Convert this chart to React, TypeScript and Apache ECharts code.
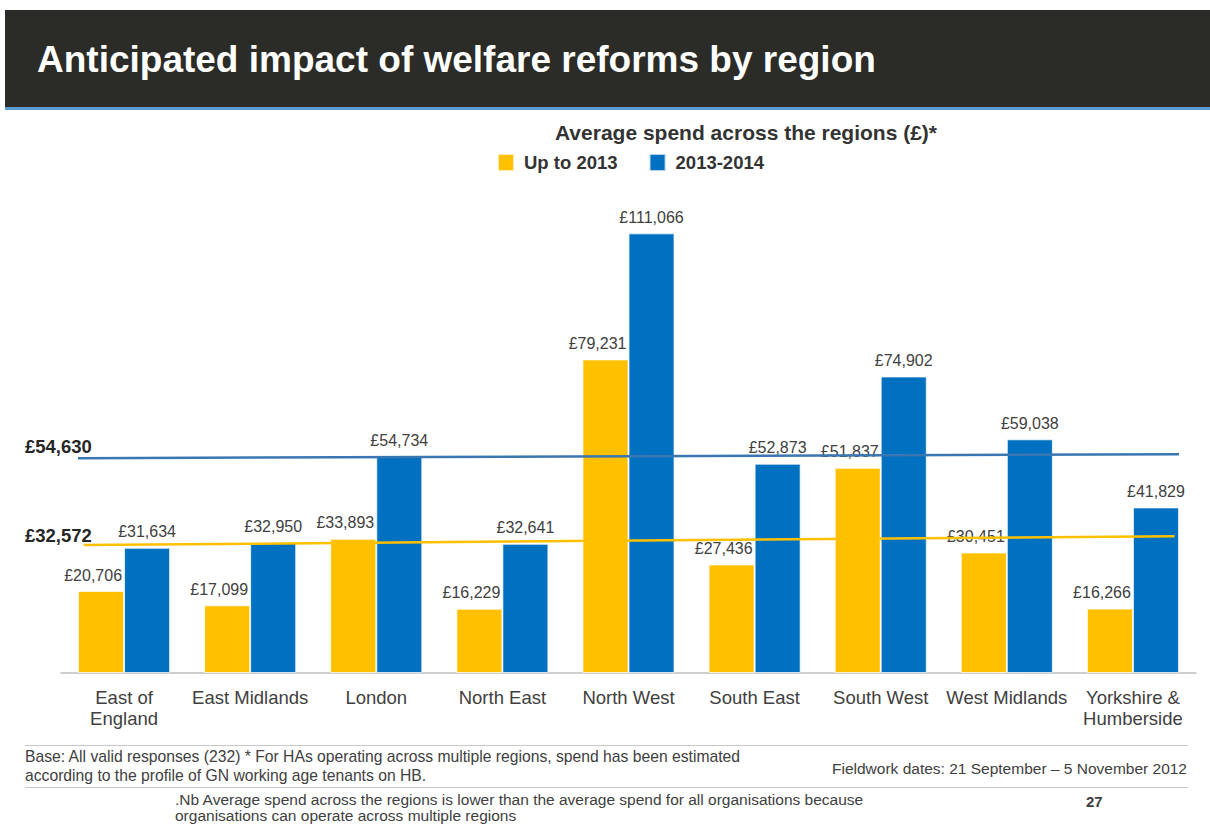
import React, { useEffect, useRef } from "react";
import * as echarts from "echarts";

const regions = [
  "East of\nEngland",
  "East Midlands",
  "London",
  "North East",
  "North West",
  "South East",
  "South West",
  "West Midlands",
  "Yorkshire &\nHumberside",
];
const upTo2013 = [20706, 17099, 33893, 16229, 79231, 27436, 51837, 30451, 16266];
const y2013_2014 = [31634, 32950, 54734, 32641, 111066, 52873, 74902, 59038, 41829];
const averages = [54630, 32572];
// trend lines drawn across the chart (start, end values)
const blueTrend = [54265, 55275];
const yellowTrend = [32307, 34578];
const trendStartX = [0.135, 0.18];
const trendEndX = [8.865, 8.83];

const FONT = "'Liberation Sans', Arial, sans-serif";
const fmt = (v: number) => "£" + v.toLocaleString("en-GB");

export default function App() {
  const ref = useRef<HTMLDivElement>(null);
  useEffect(() => {
    if (!ref.current) return;
    const chart = echarts.init(ref.current, null, { renderer: "svg" });
    const option: any = {
      animation: false,
      backgroundColor: "#ffffff",
      textStyle: { fontFamily: FONT },
      grid: { left: 61, right: 14, top: 198, bottom: 152, containLabel: false },
      legend: {
        data: ["Up to 2013", "2013-2014"],
        left: 497,
        top: 153,
        padding: 0,
        icon: "rect",
        itemWidth: 16,
        itemHeight: 17,
        itemGap: 31,
        textStyle: { fontFamily: FONT, fontSize: 18.5, fontWeight: "bold", color: "#333333", padding: [0, 0, 0, 5] },
        selectedMode: false,
      },
      xAxis: [
        {
          type: "category",
          data: regions,
          axisLine: { lineStyle: { color: "#bfbfbf", width: 1.5 } },
          axisTick: { show: false },
          axisLabel: { fontFamily: FONT, fontSize: 18.5, color: "#404040", margin: 14, lineHeight: 21, interval: 0 },
        },
        { type: "value", min: 0, max: 9, show: false },
      ],
      yAxis: { type: "value", min: 0, max: 120000, show: false, splitLine: { show: false } },
      series: [
        {
          name: "Up to 2013",
          type: "bar",
          data: upTo2013,
          barGap: "0%",
          barCategoryGap: "27%",
          itemStyle: { color: "#FFC000", borderColor: "rgba(255,255,255,0.7)", borderWidth: 1 },
          label: {
            show: true,
            position: "top",
            distance: 8,
            align: "right",
            offset: [21, 0],
            fontFamily: FONT,
            fontSize: 16,
            color: "#404040",
            formatter: (p: any) => fmt(p.value),
          },
        },
        {
          name: "2013-2014",
          type: "bar",
          data: y2013_2014,
          itemStyle: { color: "#0070C0", borderColor: "rgba(255,255,255,0.7)", borderWidth: 1 },
          label: {
            show: true,
            position: "top",
            distance: 8,
            fontFamily: FONT,
            fontSize: 16,
            color: "#404040",
            formatter: (p: any) => fmt(p.value),
          },
        },
        {
          name: "avg2014",
          type: "line",
          xAxisIndex: 1,
          data: [
            [trendStartX[0], blueTrend[0]],
            [trendEndX[0], blueTrend[1]],
          ],
          symbol: "none",
          lineStyle: { color: "#3a76b2", width: 2.5 },
          z: 5,
        },
        {
          name: "avg2013",
          type: "line",
          xAxisIndex: 1,
          data: [
            [trendStartX[1], yellowTrend[0]],
            [trendEndX[1], yellowTrend[1]],
          ],
          symbol: "none",
          lineStyle: { color: "#FFC000", width: 2.5 },
          z: 5,
        },
      ],
      graphic: [
        { type: "rect", shape: { x: 5, y: 10, width: 1205, height: 97 }, style: { fill: "#2b2b27" } },
        { type: "rect", shape: { x: 5, y: 107, width: 1205, height: 3 }, style: { fill: "#5b9bd5" } },
        {
          type: "text",
          x: 37,
          y: 59,
          style: {
            text: "Anticipated impact of welfare reforms by region",
            fill: "#ffffff",
            font: `bold 37px ${FONT}`,
            verticalAlign: "middle",
          },
        },
        {
          type: "text",
          x: 746,
          y: 132,
          style: {
            text: "Average spend across the regions (£)*",
            fill: "#333333",
            font: `bold 21px ${FONT}`,
            align: "center",
            verticalAlign: "middle",
          },
        },
        {
          type: "text",
          x: 25,
          y: 446,
          style: { text: fmt(averages[0]), fill: "#262626", font: `bold 18.5px ${FONT}`, verticalAlign: "middle" },
        },
        {
          type: "text",
          x: 25,
          y: 535,
          style: { text: fmt(averages[1]), fill: "#262626", font: `bold 18.5px ${FONT}`, verticalAlign: "middle" },
        },
        { type: "rect", shape: { x: 25, y: 745, width: 1163, height: 1 }, style: { fill: "#c8c8c8" } },
        { type: "rect", shape: { x: 25, y: 787, width: 1163, height: 1 }, style: { fill: "#c8c8c8" } },
        {
          type: "text",
          x: 25,
          y: 766,
          style: {
            text:
              "Base: All valid responses (232) * For HAs operating across multiple regions, spend has been estimated\naccording to the profile of GN working age tenants on HB.",
            fill: "#404040",
            font: `15.7px ${FONT}`,
            lineHeight: 19,
            verticalAlign: "middle",
          },
        },
        {
          type: "text",
          x: 1187,
          y: 768,
          style: {
            text: "Fieldwork dates: 21 September – 5 November 2012",
            fill: "#404040",
            font: `15.5px ${FONT}`,
            align: "right",
            verticalAlign: "middle",
          },
        },
        {
          type: "text",
          x: 175,
          y: 807,
          style: {
            text:
              ".Nb Average spend across the regions is lower than the average spend for all organisations because\norganisations can operate across multiple regions",
            fill: "#404040",
            font: `15.5px ${FONT}`,
            lineHeight: 16,
            verticalAlign: "middle",
          },
        },
        {
          type: "text",
          x: 1086,
          y: 801,
          style: { text: "27", fill: "#404040", font: `bold 15px ${FONT}`, verticalAlign: "middle" },
        },
      ],
    };
    chart.setOption(option);
    return () => chart.dispose();
  }, []);
  return (
    <div
      ref={ref}
      style={{ position: "absolute", left: 0, top: 0, width: 1210, height: 825 }}
    />
  );
}
